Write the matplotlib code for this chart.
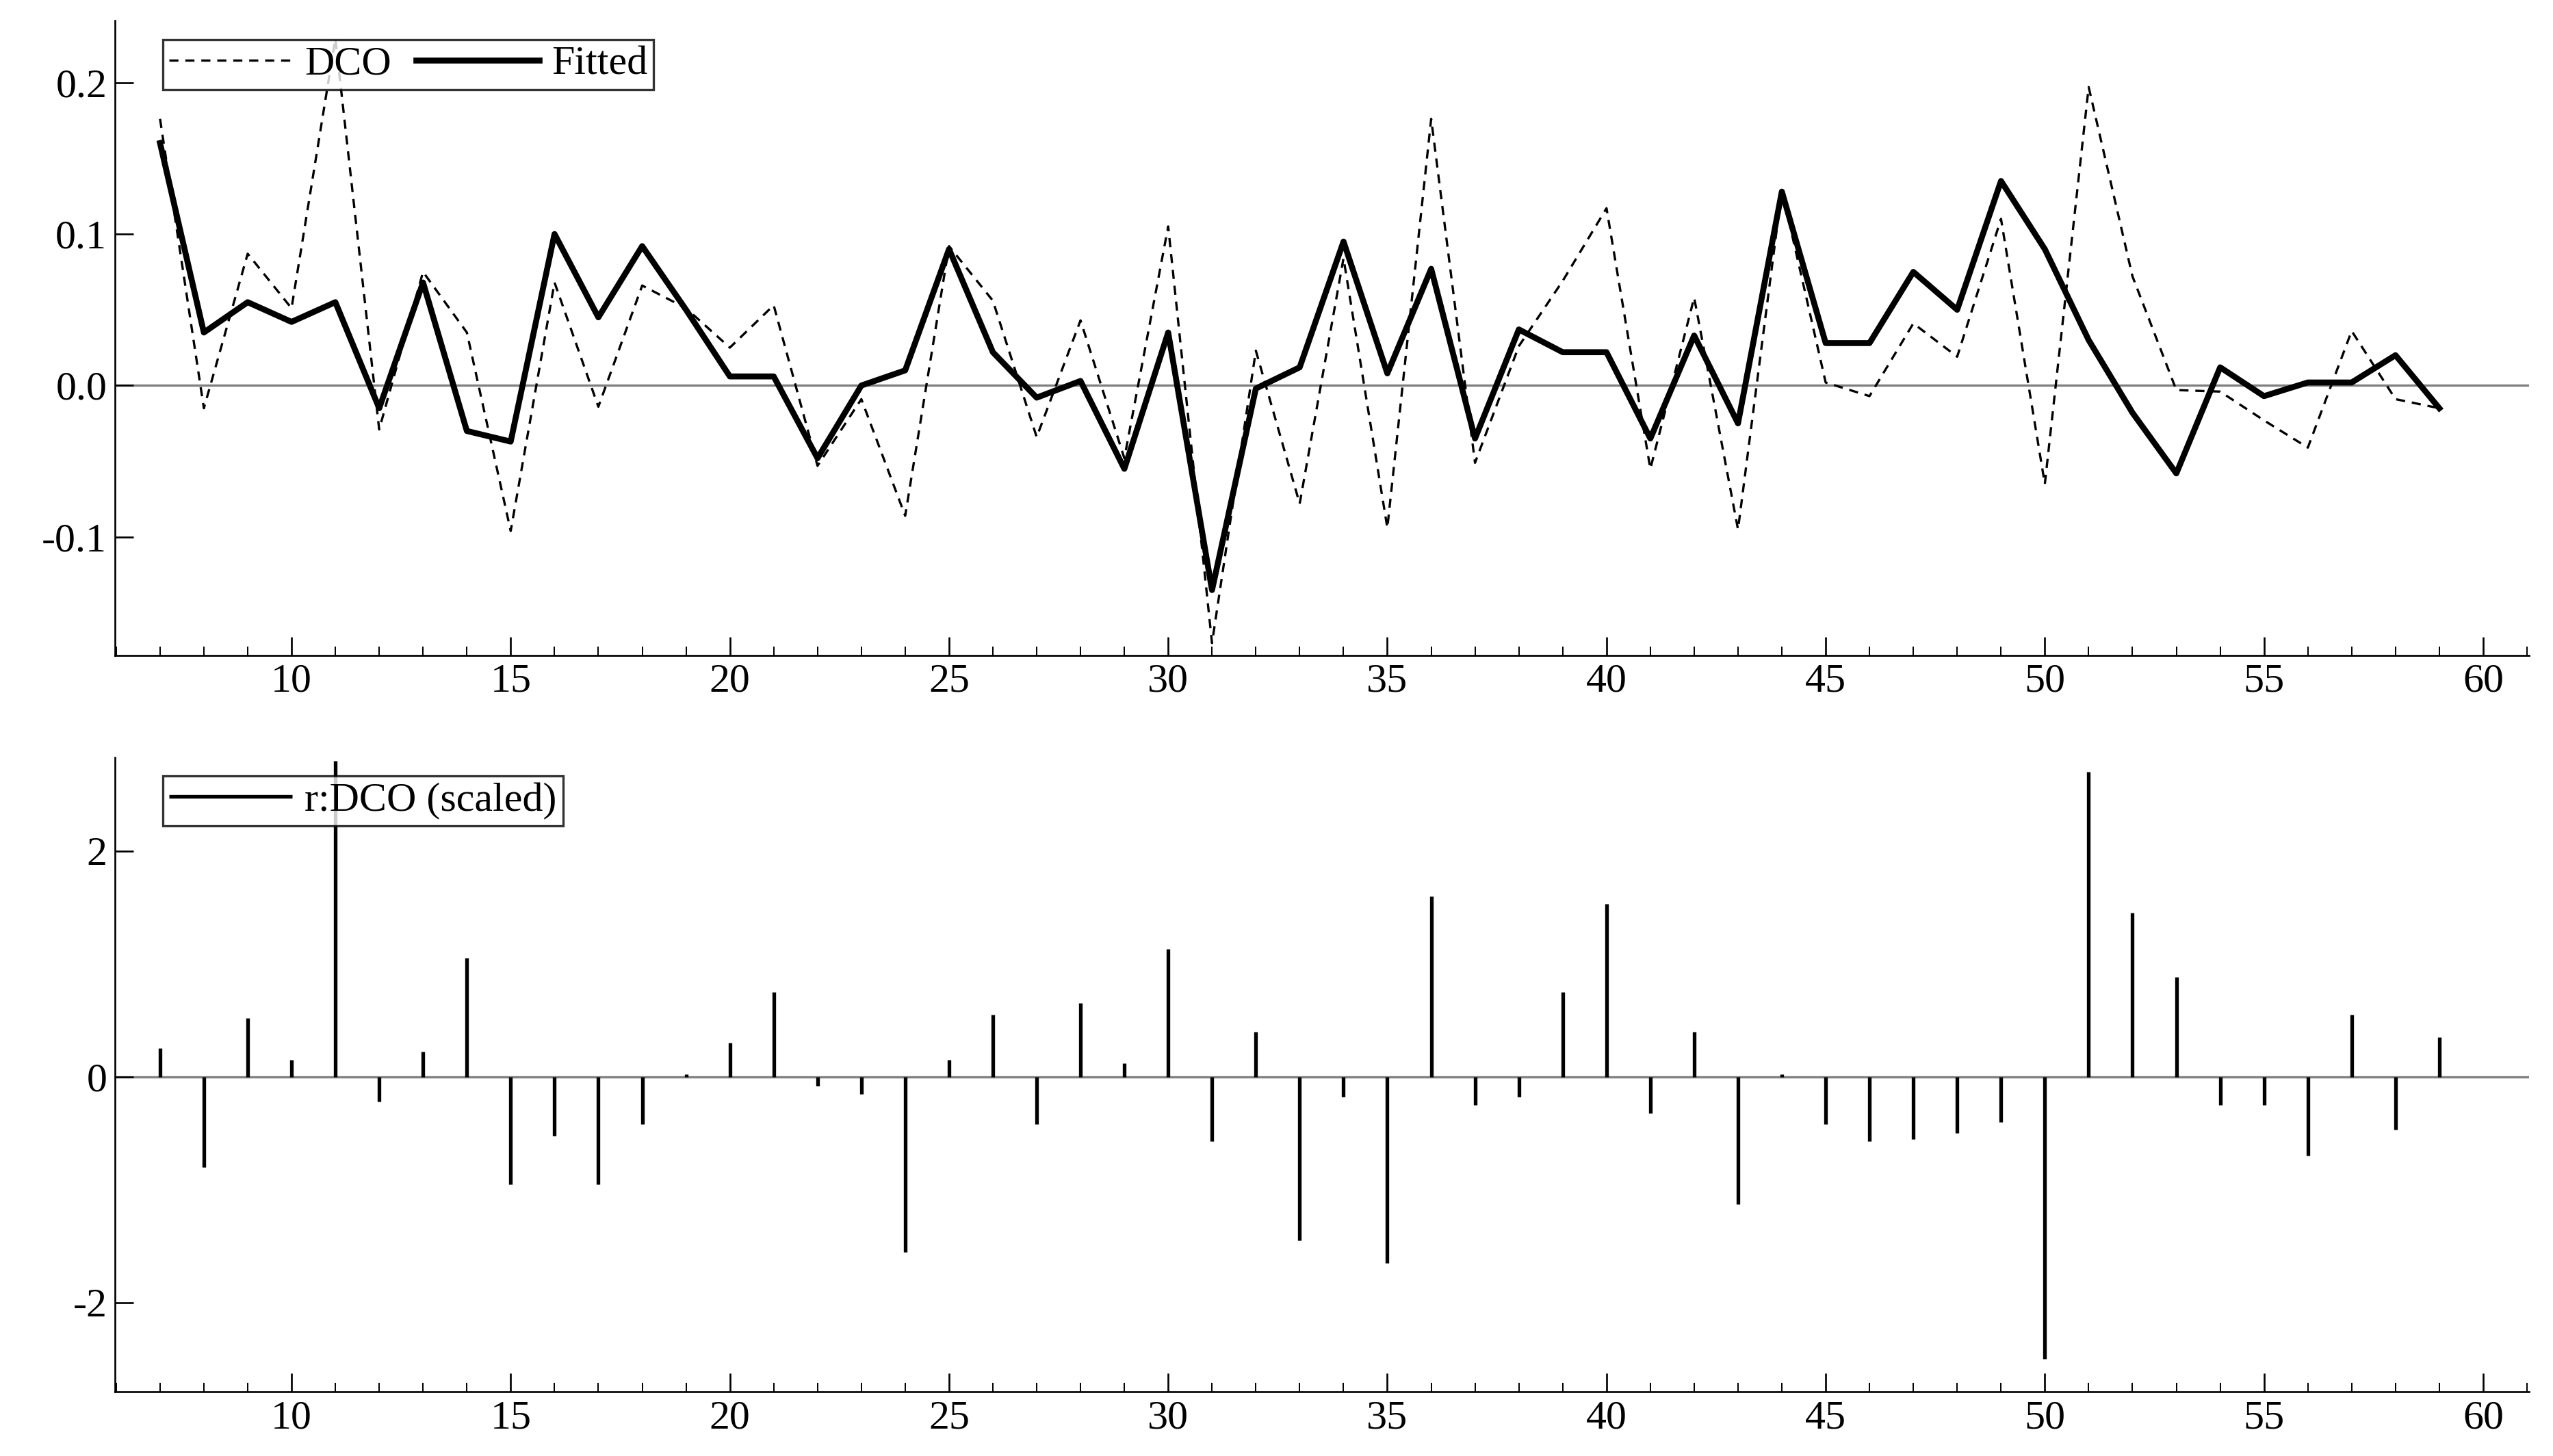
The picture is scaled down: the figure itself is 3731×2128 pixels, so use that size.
import matplotlib
matplotlib.use("Agg")
import matplotlib.pyplot as plt
from matplotlib.ticker import MultipleLocator

plt.rcParams['font.family'] = ['Liberation Serif', 'DejaVu Serif']
plt.rcParams['axes.unicode_minus'] = False

years = list(range(7, 60))
fitted = [0.16,0.035,0.055,0.042,0.055,-0.015,0.068,-0.03,-0.037,0.1,0.045,0.092,0.05,0.006,0.006,
          -0.048,0.0,0.01,0.09,0.022,-0.008,0.003,-0.055,0.035,-0.135,-0.002,0.012,0.095,0.008,0.077,
          -0.035,0.037,0.022,0.022,-0.035,0.033,-0.025,0.128,0.028,0.028,0.075,0.05,0.135,0.09,0.03,
          -0.018,-0.058,0.012,-0.007,0.002,0.002,0.02,-0.015]
dco = [0.176,-0.015,0.087,0.051,0.229,-0.029,0.075,0.035,-0.096,0.068,-0.014,0.066,0.051,0.025,0.053,
       -0.053,-0.009,-0.086,0.092,0.056,-0.034,0.043,-0.048,0.105,-0.17,0.023,-0.078,0.084,-0.094,0.176,
       -0.051,0.026,0.069,0.117,-0.055,0.058,-0.095,0.129,0.002,-0.007,0.041,0.019,0.11,-0.065,0.197,
       0.072,-0.003,-0.004,-0.023,-0.041,0.036,-0.009,-0.015]
resid = [0.25,-0.8,0.52,0.15,2.8,-0.22,0.22,1.05,-0.95,-0.52,-0.95,-0.42,0.02,0.3,0.75,-0.08,-0.15,
         -1.55,0.15,0.55,-0.42,0.65,0.12,1.13,-0.57,0.4,-1.45,-0.18,-1.65,1.6,-0.25,-0.18,0.75,1.53,
         -0.32,0.4,-1.13,0.02,-0.42,-0.57,-0.55,-0.5,-0.4,-2.5,2.7,1.45,0.88,-0.25,-0.25,-0.7,0.55,-0.47,0.35]

fig = plt.figure(figsize=(3731/240, 2128/240), dpi=240)
ax1 = fig.add_axes([0.045, 0.55, 0.9455, 0.436])
ax2 = fig.add_axes([0.045, 0.044, 0.9455, 0.436])

ax1.plot(years, dco, 'k--', lw=1.0, label='DCO', dashes=(4, 3))
ax1.plot(years, fitted, 'k-', lw=2.6, label='Fitted')
ax1.axhline(0, color='#808080', lw=1.0, zorder=0)
ax1.set_ylim(-0.178, 0.241)
ax1.set_yticks([-0.1, 0.0, 0.1, 0.2])
ax1.set_yticklabels(['-0.1', '0.0', '0.1', '0.2'])
ax1.legend(loc='upper left', ncol=2, fontsize=18, frameon=True, fancybox=False, edgecolor='black',
           bbox_to_anchor=(0.02, 0.97), borderaxespad=0, handlelength=3, columnspacing=0.6,
           handletextpad=0.3, borderpad=0.15)

ax2.vlines(years, 0, resid, color='black', lw=1.6, label='r:DCO (scaled)')
ax2.axhline(0, color='#808080', lw=1.0, zorder=0)
ax2.set_ylim(-2.79, 2.83)
ax2.set_yticks([-2, 0, 2])
ax2.legend(loc='upper left', fontsize=18, frameon=True, fancybox=False, edgecolor='black',
           bbox_to_anchor=(0.02, 0.97), borderaxespad=0, handlelength=3, handletextpad=0.3,
           borderpad=0.15)

for ax in (ax1, ax2):
    ax.set_xlim(5.97, 61.04)
    ax.set_xticks(range(10, 61, 5))
    ax.xaxis.set_minor_locator(MultipleLocator(1))
    for s in ('top', 'right'):
        ax.spines[s].set_visible(False)
    ax.tick_params(which='both', direction='in', labelsize=18)
    ax.tick_params(which='major', length=8)
    ax.tick_params(which='minor', length=4)

fig.savefig('out.png', dpi=240)
